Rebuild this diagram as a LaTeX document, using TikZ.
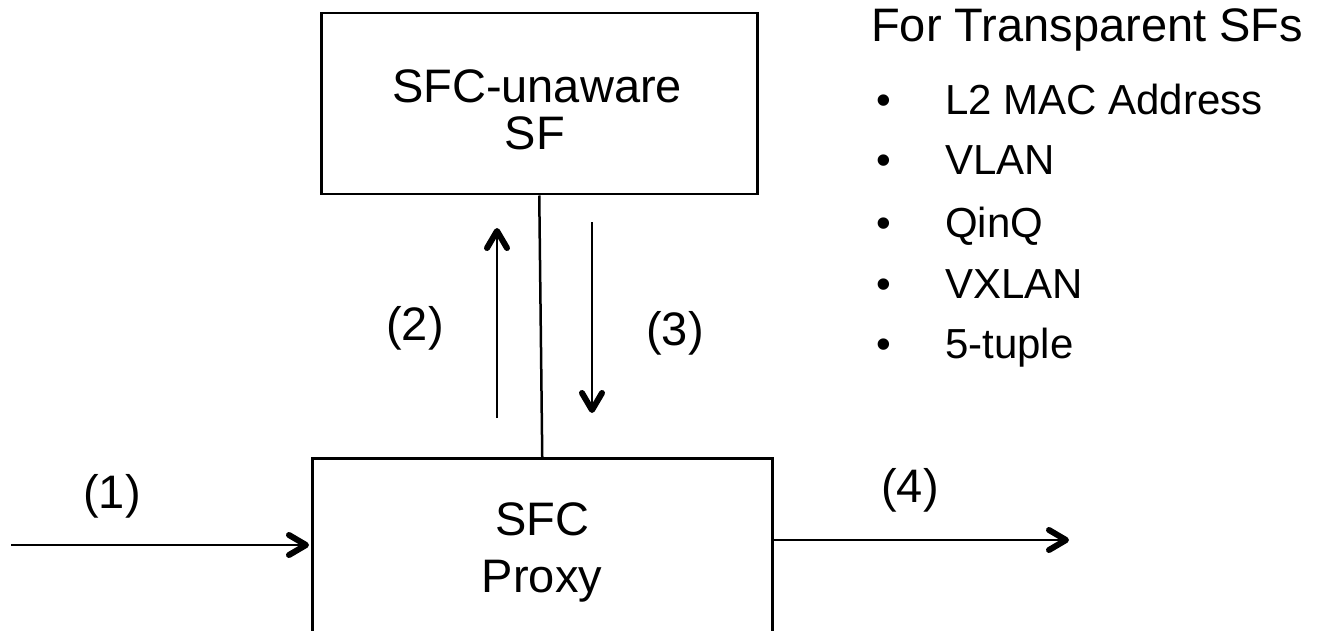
\documentclass[tikz,border=0pt]{standalone}
\usepackage{fontspec}
\setmainfont{Liberation Sans}
\usetikzlibrary{arrows.meta}
\begin{document}
\begin{tikzpicture}[x=1pt,y=-1pt,
  box/.style={draw, line width=2.5pt, inner sep=0pt, anchor=north west},
  lbl/.style={inner sep=0pt, anchor=base, font=\fontsize{47}{47}\selectfont},
  lst/.style={inner sep=0pt, anchor=base west, font=\fontsize{42}{42}\selectfont},
  hdr/.style={inner sep=0pt, anchor=base west, font=\fontsize{47}{47}\selectfont},
  flow/.style={line width=2.5pt, -{Straight Barb[length=17pt,width=20pt,line width=6pt,round]}},
  link/.style={line width=2.5pt}]
\clip (0,0) rectangle (1322,631);
\fill[white] (0,0) rectangle (1322,631);
% boxes
\node[box, minimum width=436pt, minimum height=181pt] (sf) at (320,12) {};
\node[box, minimum width=460pt, minimum height=177pt] (proxy) at (311,457) {};
% box texts
\node[lbl] (sft1) at (537,103) {SFC-unaware};
\node[lbl] (sft2) at (535,150) {SF};
\node[lbl] (pxt1) at (542,535) {SFC};
\node[lbl] (pxt2) at (542,592) {Proxy};
% link between boxes
\draw[link] (sf.south) -- (proxy.north);
% flows
\coordinate (in) at (11,545);
\coordinate (out) at (1069,540);
\coordinate (up0) at (497,418);
\coordinate (up1) at (497,228);
\coordinate (dn0) at (592,222);
\coordinate (dn1) at (592,413);
\draw[flow] (in) -- ([xshift=-2pt]in -| proxy.west);
\draw[flow] (out -| proxy.east) -- (out);
\draw[flow] (up0) -- (up1);
\draw[flow] (dn0) -- (dn1);
% flow labels
\node[lbl] (l1) at (112,508) {(1)};
\node[lbl] (l2) at (415,340) {(2)};
\node[lbl] (l3) at (675,345) {(3)};
\node[lbl] (l4) at (910,502) {(4)};
% list
\node[hdr] (head) at (871,42) {For Transparent SFs};
\foreach \y/\t [count=\i] in {115/L2 MAC Address, 175/VLAN, 237/QinQ, 298/VXLAN, 358/5-tuple}{
  \node[lst] (b\i) at (876,\y) {•};
  \node[lst] (t\i) at (945,\y) {\t};
}
\end{tikzpicture}
\end{document}
